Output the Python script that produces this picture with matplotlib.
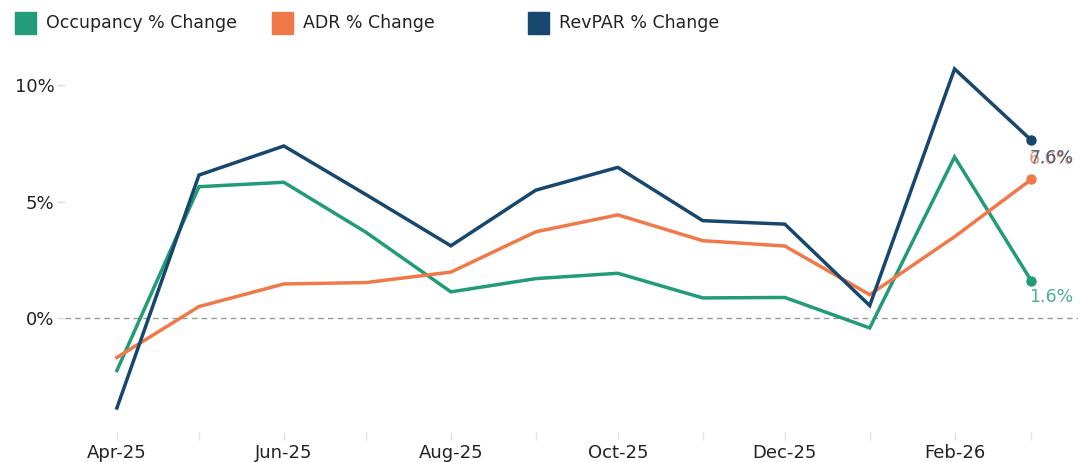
import pandas as pd
import numpy as np
import matplotlib
matplotlib.use("Agg")
import matplotlib.pyplot as plt
import matplotlib.dates as mdates
from matplotlib.patches import Rectangle

# data
months = ["2025-04", "2025-05", "2025-06", "2025-07", "2025-08", "2025-09",
          "2025-10", "2025-11", "2025-12", "2026-01", "2026-02", "2026-03"]
occupancy = [-2.26, 5.64, 5.83, 3.68, 1.12, 1.69, 1.92, 0.86, 0.88, -0.43, 6.92, 1.60]
adr = [-1.70, 0.49, 1.46, 1.52, 1.97, 3.70, 4.43, 3.32, 3.09, 1.00, 3.49, 5.95]
revpar = [-3.87, 6.14, 7.39, 5.30, 3.10, 5.49, 6.47, 4.18, 4.03, 0.53, 10.70, 7.64]

series_names = ["Occupancy % Change", "ADR % Change", "RevPAR % Change"]
colors = ["#229b78", "#f0794a", "#17476f"]

dates = pd.to_datetime(months)

fig = plt.figure(figsize=(10.81, 4.62), dpi=100)
ax = fig.add_axes([0.060, 0.065, 0.937, 0.816])

# zero line
ax.axhline(0, color="#999999", lw=1, ls=(0, (4, 3)), zorder=1)

# end labels, offsets in points (7.6% and 6.0% sit on top of each other like the original)
label_offsets = {0: -11.5, 1: 15, 2: -13}
for i, (name, vals, c) in enumerate(zip(series_names, [occupancy, adr, revpar], colors)):
    ax.plot(dates, vals, color=c, lw=2.5, solid_joinstyle="miter", zorder=3 + i)
    ax.plot(dates[-1:], vals[-1:], "o", color=c, ms=6.5, zorder=3 + i)
    ax.annotate(f"{vals[-1]:.1f}%", (dates[-1], vals[-1]), xytext=(-1.5, label_offsets[i]),
                textcoords="offset points", color=c, fontsize=12.5, alpha=0.8,
                ha="left", va="center", annotation_clip=False)

ax.set_xlim(dates[0] - pd.Timedelta(days=19), dates[-1] + pd.Timedelta(days=17))
ax.set_ylim(-4.9, 11.3)

ax.set_yticks([0, 5, 10])
ax.set_yticklabels(["0%", "5%", "10%"])
ax.xaxis.set_major_locator(mdates.MonthLocator(bymonth=[2, 4, 6, 8, 10, 12]))
ax.xaxis.set_minor_locator(mdates.MonthLocator())
ax.xaxis.set_major_formatter(mdates.DateFormatter("%b-%y"))

for s in ax.spines.values():
    s.set_visible(False)
ax.tick_params(axis="both", which="both", colors="#e0e0e0", labelcolor="#222222",
               labelsize=13, length=6, width=1)
ax.tick_params(axis="y", pad=1.5)
ax.tick_params(axis="x", pad=3)

# legend
leg_x = [15, 272, 528]
for x0, name, c in zip(leg_x, series_names, colors):
    fig.patches.append(Rectangle((x0 / 1081, 1 - 34 / 462), 21 / 1081, 22 / 462,
                                 transform=fig.transFigure, color=c))
    fig.text((x0 + 31) / 1081, 1 - 23 / 462, name, fontsize=12.5,
             color="#222222", va="center", ha="left")

fig.savefig("out.png", dpi=100)
